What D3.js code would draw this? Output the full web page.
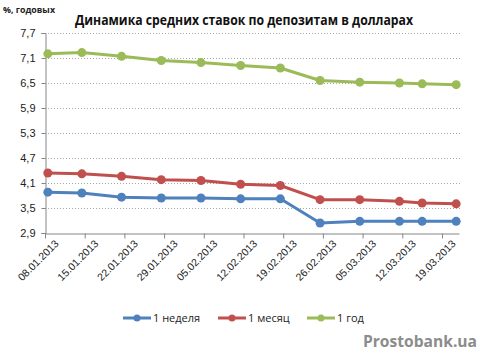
<!DOCTYPE html>
<html>
<head>
<meta charset="utf-8">
<script src="https://cdn.jsdelivr.net/npm/d3@7"></script>
<style>
  body { margin: 0; background: #fff; }
  svg { display: block; font-family: "Open Sans", "Noto Sans", sans-serif; }
  .grid line { stroke: #a6a6a6; stroke-dasharray: 1,2; }
  .axis path, .axis line { stroke: #868686; }
  .axis text { fill: #222; font-size: 10.5px; }
</style>
</head>
<body>
<div id="viz"></div>
<script>
// dates of the observations
var dates = ["08.01.2013","14.01.2013","21.01.2013","28.01.2013","04.02.2013","11.02.2013",
             "18.02.2013","25.02.2013","04.03.2013","11.03.2013","15.03.2013","21.03.2013"];
var week  = [3.88, 3.86, 3.76, 3.74, 3.74, 3.72, 3.72, 3.14, 3.18, 3.18, 3.18, 3.18];
var month = [4.34, 4.32, 4.26, 4.18, 4.16, 4.07, 4.04, 3.70, 3.70, 3.66, 3.62, 3.60];
var year  = [7.20, 7.23, 7.14, 7.04, 6.99, 6.92, 6.86, 6.56, 6.52, 6.50, 6.48, 6.46];
var seriesNames = ["1 неделя", "1 месяц", "1 год"];
var colors = ["#4f81bd", "#c0504d", "#9bbb59"];
var yTicks = [2.9, 3.5, 4.1, 4.7, 5.3, 5.9, 6.5, 7.1, 7.7];
var xTickLabels = ["08.01.2013","15.01.2013","22.01.2013","29.01.2013","05.02.2013","12.02.2013",
                   "19.02.2013","26.02.2013","05.03.2013","12.03.2013","19.03.2013"];

var width = 480, height = 361;
var margin = {top: 33, right: 20, bottom: 128, left: 45};

var parse = d3.timeParse("%d.%m.%Y");
var fmt = d3.timeFormat("%d.%m.%Y");

var svg = d3.select("#viz").append("svg")
    .attr("width", width)
    .attr("height", height);

var x = d3.scaleTime()
    .domain([parse("08.01.2013"), parse("22.03.2013")])
    .range([margin.left, 459]);
var y = d3.scaleLinear()
    .domain([2.9, 7.7])
    .range([233, margin.top]);

// grid
svg.append("g")
    .attr("class", "grid")
    .selectAll("line")
    .data(yTicks.slice(1))
    .enter().append("line")
    .attr("x1", margin.left)
    .attr("x2", 460)
    .attr("y1", function(d){ return y(d) + 0.5; })
    .attr("y2", function(d){ return y(d) + 0.5; });

// y axis
var yAxis = svg.append("g")
    .attr("class", "axis")
    .attr("transform", "translate(" + (margin.left + 0.5) + ",0)")
    .call(d3.axisLeft(y).tickValues(yTicks).tickSize(4).tickPadding(6)
        .tickFormat(function(d){ return d3.format(".1f")(d).replace(".", ","); }));
yAxis.selectAll("text").style("font-size", "11px");

// x axis
var xAxis = svg.append("g")
    .attr("class", "axis")
    .attr("transform", "translate(0," + (233.5) + ")")
    .call(d3.axisBottom(x).tickValues(xTickLabels.map(parse)).tickSize(5).tickSizeOuter(0).tickFormat(fmt));
xAxis.selectAll("text")
    .attr("text-anchor", "end")
    .attr("dx", "0.2em")
    .attr("dy", "0.9em")
    .attr("transform", "rotate(-45)");

// series
var allSeries = [week, month, year];
var line = d3.line()
    .x(function(d, i){ return x(d3.timeHour.offset(parse(dates[i]), 12)); })
    .y(function(d){ return y(d); });

allSeries.forEach(function(s, k){
    svg.append("path")
        .datum(s)
        .attr("fill", "none")
        .attr("stroke", colors[k])
        .attr("stroke-width", 3)
        .attr("stroke-linejoin", "round")
        .attr("d", line);
    svg.append("g")
        .selectAll("circle")
        .data(s)
        .enter().append("circle")
        .attr("cx", function(d, i){ return x(d3.timeHour.offset(parse(dates[i]), 12)); })
        .attr("cy", function(d){ return y(d); })
        .attr("r", 4.5)
        .attr("fill", colors[k]);
});

// title
svg.append("text")
    .attr("x", 244)
    .attr("y", 25)
    .attr("text-anchor", "middle")
    .attr("textLength", 338)
    .attr("lengthAdjust", "spacingAndGlyphs")
    .style("font-size", "14px")
    .style("font-weight", "bold")
    .style("fill", "#111")
    .text("Динамика средних ставок по депозитам в долларах");

svg.append("text")
    .attr("x", 3)
    .attr("y", 13)
    .attr("textLength", 52)
    .attr("lengthAdjust", "spacingAndGlyphs")
    .style("font-size", "9px")
    .style("font-weight", "bold")
    .style("fill", "#222")
    .text("%, годовых");

// legend
var legendX = [123, 218, 307];
var legend = svg.append("g");
seriesNames.forEach(function(n, k){
    var g = legend.append("g").attr("transform", "translate(" + legendX[k] + ",318)");
    g.append("line").attr("x1", 0).attr("x2", 28).attr("y1", 0).attr("y2", 0)
        .attr("stroke", colors[k]).attr("stroke-width", 3);
    g.append("circle").attr("cx", 14).attr("cy", 0).attr("r", 3.5).attr("fill", colors[k]);
    g.append("text").attr("x", 30).attr("y", 4)
        .style("font-size", "11px").style("fill", "#222").text(n);
});

svg.append("text")
    .attr("x", 477)
    .attr("y", 347)
    .attr("text-anchor", "end")
    .attr("textLength", 114)
    .attr("lengthAdjust", "spacingAndGlyphs")
    .style("font-size", "16px")
    .style("font-weight", "bold")
    .style("fill", "#8c8c8c")
    .text("Prostobank.ua");
</script>
</body>
</html>
